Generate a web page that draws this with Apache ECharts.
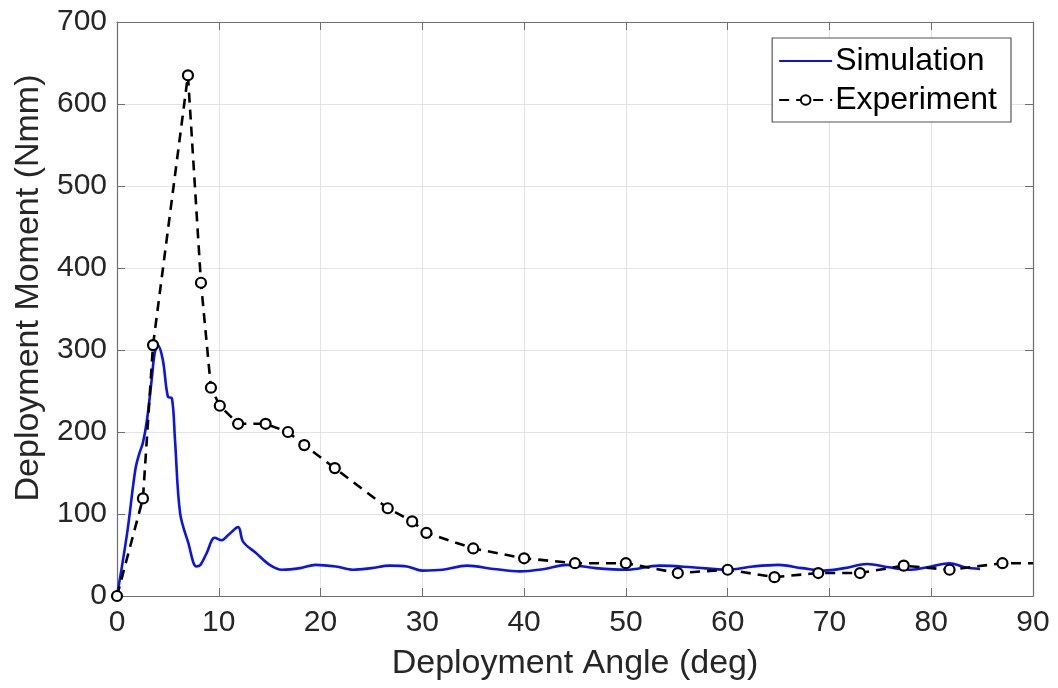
<!DOCTYPE html>
<html><head><meta charset="utf-8">
<script src="https://cdn.jsdelivr.net/npm/echarts@6/dist/echarts.min.js"></script>
<style>html,body{margin:0;padding:0;background:#fff}#c{width:1058px;height:688px}</style>
</head><body><div id="c"></div>
<script>
const xTicks = [0,10,20,30,40,50,60,70,80,90];
const yTicks = [0,100,200,300,400,500,600,700];
const simAngle = [0,1.0,1.8,2.2,2.55,2.95,3.4,3.7,4.0,4.5,5.0,5.4,5.7,6.2,7.0,7.8,8.2,8.8,9.6,10.3,10.9,11.9,12.4,13.7,15.0,16.2,18.0,19.5,21.5,23.2,25.0,26.8,28.5,30.0,32.0,34.4,37.0,39.6,42.0,44.2,47.0,50.0,53.3,56.5,60.0,62.5,65.0,67.3,69.5,71.5,73.7,75.8,78.0,80.0,81.8,83.3,84.8];
const simMoment = [0,77,154,174,187,215,263,296,306,288,243,241,190,101,65,36,38,52,71,68,74,84,66,52,38,32,34,38,36,32,34,37,36,31,32,37,33,30,33,38,34,32,37,35,32,36,38,34,31,34,39,35,32,36,40,35,33];
const expAngle = [0,2.55,3.54,6.97,8.25,9.23,10.1,11.9,14.6,16.8,18.4,21.4,26.6,29.0,30.4,35.0,40.0,45.0,50.0,55.1,60.0,64.6,68.9,73.0,77.3,81.8,87.0,90.0];
const expMoment = [0,119,306,635,382,254,232,210,210,200,184,156,107,91,77,58,46,40,40,28,32,23,28,28,37,32,40,40];

const txt = '#262626', font = 'Liberation Sans';
const simData = simAngle.map((a,i)=>[a, simMoment[i]]);
const expData = expAngle.map((a,i)=>{
  const d = {value:[a, expMoment[i]]};
  if (i === expAngle.length-1) { d.symbol = 'none'; }
  return d;
});
const axisCommon = {
  axisLine:{show:true, onZero:false, lineStyle:{color:'#6e6e6e', width:1.2}},
  axisTick:{show:true, inside:true, length:8, lineStyle:{color:'#6e6e6e'}},
  splitLine:{show:false},
};
const chart = echarts.init(document.getElementById('c'), null, {renderer:'canvas'});
chart.setOption({
  backgroundColor:'#fff',
  animation:false,
  grid:{left:117, right:25, top:22, bottom:92, containLabel:false},
  xAxis:[
    Object.assign({}, axisCommon, {type:'value', min:0, max:90, interval:10, position:'bottom',
      name:'Deployment Angle (deg)', nameLocation:'middle', nameGap:51,
      nameTextStyle:{color:txt, fontSize:34, fontFamily:font},
      axisLabel:{color:txt, fontSize:30, fontFamily:font, margin:12},
      splitLine:{show:true, lineStyle:{color:'#e3e3e3', width:1}}}),
    Object.assign({}, axisCommon, {type:'value', min:0, max:90, interval:10, position:'top', axisLabel:{show:false}})
  ],
  yAxis:[
    Object.assign({}, axisCommon, {type:'value', min:0, max:700, interval:100, position:'left',
      name:'Deployment Moment (Nmm)', nameLocation:'middle', nameGap:70,
      nameTextStyle:{color:txt, fontSize:34, fontFamily:font, padding:[0,0,0,42]},
      axisLabel:{color:txt, fontSize:30, fontFamily:font, margin:10},
      splitLine:{show:true, lineStyle:{color:'#e3e3e3', width:1}}}),
    Object.assign({}, axisCommon, {type:'value', min:0, max:700, interval:100, position:'right', axisLabel:{show:false}})
  ],
  legend:{
    right:47, top:38, orient:'vertical', itemGap:7, itemWidth:53, itemHeight:12,
    backgroundColor:'#fff', borderColor:'#555', borderWidth:1.2, padding:[7,14,6,6],
    textStyle:{color:'#000', fontSize:32, fontFamily:font, padding:[0,0,0,-2]},
    data:[{name:'Simulation', itemStyle:{opacity:0}}, {name:'Experiment'}]
  },
  series:[
    {name:'Simulation', type:'line', data:simData, showSymbol:false, symbol:'none', smooth:0.35,
      lineStyle:{color:'#0a14e6', width:2.6}, itemStyle:{color:'#0a14e6'}, z:3},
    {name:'Experiment', type:'line', data:expData, symbol:'circle', symbolSize:10, showAllSymbol:true,
      lineStyle:{color:'#000', width:2.6, type:[10,7]},
      itemStyle:{color:'#fff', borderColor:'#000', borderWidth:2.2}, z:4}
  ]
});
</script></body></html>
